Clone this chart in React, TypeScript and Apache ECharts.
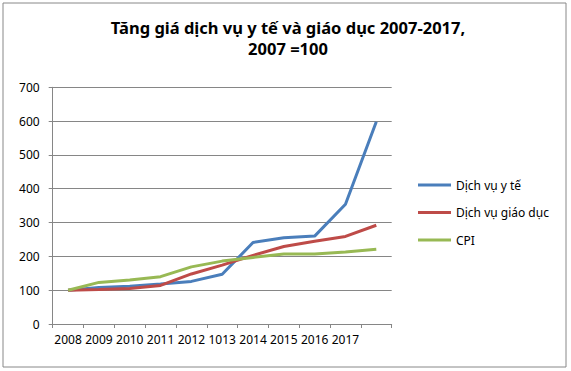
import React, { useEffect, useRef } from "react";
import * as echarts from "echarts";

const years = ["2007", "2008", "2009", "2010", "2011", "2012", "2013", "2014", "2015", "2016", "2017"];
const xTickLabels = ["2008", "2009", "2010", "2011", "2012", "1013", "2014", "2015", "2016", "2017", ""];
const healthValues = [100, 108, 112, 118, 126, 147, 241, 255, 260, 354, 598];
const educationValues = [100, 102, 105, 114, 148, 174, 203, 229, 245, 259, 292];
const cpiValues = [100, 123, 130, 140, 169, 186, 197, 207, 207, 213, 221];
const seriesNames = ["Dịch vụ y tế", "Dịch vụ giáo dục", "CPI"];
const seriesColors = ["#4A7EBB", "#BE4B48", "#98B954"];

const FONT = "'Noto Sans', 'DejaVu Sans', sans-serif";

export default function App() {
  const ref = useRef<HTMLDivElement>(null);
  useEffect(() => {
    if (!ref.current) return;
    const chart = echarts.init(ref.current, undefined, { renderer: "svg" });
    const values = [healthValues, educationValues, cpiValues];
    chart.setOption({
      animation: false,
      backgroundColor: "#ffffff",
      title: {
        text: "Tăng giá dịch vụ y tế và giáo dục 2007-2017,\n2007 =100",
        left: 288,
        textAlign: "center",
        top: 17,
        padding: 0,
        textStyle: {
          fontFamily: FONT,
          fontSize: 16.5,
          fontWeight: "bold",
          color: "#000",
          lineHeight: 21,
        },
      },
      graphic: [
        {
          type: "rect",
          shape: { x: 3, y: 3, width: 563, height: 364 },
          style: { fill: "none", stroke: "#888", lineWidth: 1 },
          silent: true,
        },
      ],
      legend: {
        orient: "vertical",
        left: 418,
        top: 178,
        itemWidth: 33,
        itemHeight: 3,
        itemGap: 13.5,
        icon: "rect",
        padding: 0,
        data: seriesNames,
        textStyle: { fontFamily: FONT, fontSize: 12, color: "#000", lineHeight: 14 },
      },
      grid: { left: 52.7, right: 179.3, top: 87.3, bottom: 47, containLabel: false },
      xAxis: {
        type: "category",
        data: years,
        boundaryGap: true,
        axisLine: { lineStyle: { color: "#868686", width: 1 } },
        axisTick: { show: true, length: 4, lineStyle: { color: "#868686" } },
        axisLabel: {
          interval: 0,
          margin: 9,
          fontFamily: FONT,
          fontSize: 12,
          color: "#000",
          formatter: (_v: string, i: number) => xTickLabels[i],
        },
        splitLine: { show: false },
      },
      yAxis: {
        type: "value",
        min: 0,
        max: 700,
        interval: 100,
        axisLine: { show: true, lineStyle: { color: "#868686", width: 1 } },
        axisTick: { show: true, length: 4, lineStyle: { color: "#868686" } },
        axisLabel: { margin: 13, fontFamily: FONT, fontSize: 12, color: "#000" },
        splitLine: { lineStyle: { color: "#868686", width: 1 } },
      },
      series: seriesNames.map((name, k) => ({
        name,
        type: "line",
        data: values[k],
        symbol: "none",
        color: seriesColors[k],
        lineStyle: { width: 3, color: seriesColors[k] },
      })),
    });
    return () => chart.dispose();
  }, []);
  return (
    <div
      ref={ref}
      style={{ position: "fixed", left: 0, top: 0, width: 571, height: 371 }}
    />
  );
}
